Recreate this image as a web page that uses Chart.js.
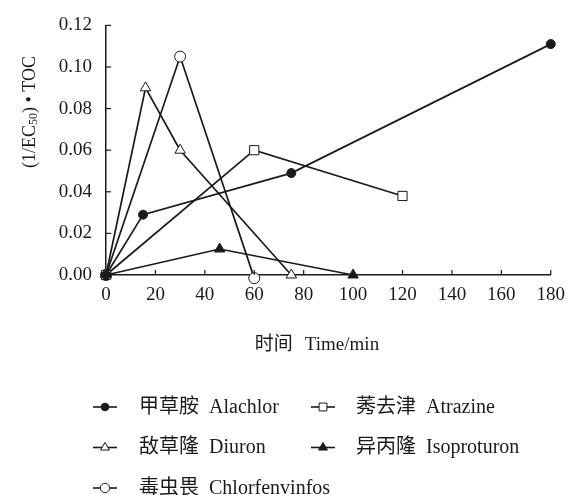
<!DOCTYPE html>
<html><head><meta charset="utf-8">
<style>html,body{margin:0;padding:0;background:#fff}#wrap{width:574px;height:495px;position:relative}</style>
<script src="https://cdn.jsdelivr.net/npm/chart.js@4/dist/chart.umd.min.js"></script>
</head><body><div id="wrap"><canvas id="c"></canvas></div>
<script>
// ---- data ----
const xTicks = [0, 20, 40, 60, 80, 100, 120, 140, 160, 180];
const yTicks = [0, 0.02, 0.04, 0.06, 0.08, 0.10, 0.12];
const seriesZh = ['甲草胺', '莠去津', '敌草隆', '异丙隆', '毒虫畏'];
const seriesEn = ['Alachlor', 'Atrazine', 'Diuron', 'Isoproturon', 'Chlorfenvinfos'];
const alachlorT = [0, 15, 75, 180];
const alachlorV = [0, 0.029, 0.049, 0.111];
const atrazineT = [0, 60, 120];
const atrazineV = [0, 0.060, 0.038];
const diuronT = [0, 16, 30, 75];
const diuronV = [0, 0.090, 0.060, 0];
const isoproturonT = [0, 46, 100];
const isoproturonV = [0, 0.0125, 0];
const chlorT = [0, 30, 60];
const chlorV = [0, 0.105, -0.0015];
const xTitleZh = '时间';
const xTitleEn = 'Time/min';
const yTitleParts = ['(1/EC', '50', ') • TOC'];

// ---- styles ----
const INK = '#1a1a1a';
const SERIF = '"Liberation Serif", "Times New Roman", serif';
const CJK = '"Noto Sans CJK SC", sans-serif';

function pts(t, v) { return t.map((x, i) => ({ x: x, y: v[i] })); }
function ds(i, t, v, style, filled, r) {
  return {
    label: seriesZh[i] + ' ' + seriesEn[i],
    data: pts(t, v),
    borderColor: INK, borderWidth: 1.7,
    pointStyle: style, pointRadius: r, pointHoverRadius: r,
    pointBackgroundColor: filled ? INK : '#ffffff',
    pointBorderColor: INK, pointBorderWidth: 1,
    fill: false, tension: 0, clip: false
  };
}
const datasets = [
  ds(0, alachlorT, alachlorV, 'circle', true, 4.5),
  ds(1, atrazineT, atrazineV, 'rect', false, 6.5),
  ds(2, diuronT, diuronV, 'triangle', false, 6),
  ds(3, isoproturonT, isoproturonV, 'triangle', true, 6),
  ds(4, chlorT, chlorV, 'circle', false, 5.5)
];

function marker(ctx, style, filled, x, y, r) {
  ctx.beginPath();
  if (style === 'circle') {
    ctx.arc(x, y, r, 0, Math.PI * 2);
  } else if (style === 'rect') {
    const s = r * Math.SQRT1_2;
    ctx.rect(x - s, y - s, 2 * s, 2 * s);
  } else {
    ctx.moveTo(x, y - r);
    ctx.lineTo(x + r * Math.cos(Math.PI / 6), y + r / 2);
    ctx.lineTo(x - r * Math.cos(Math.PI / 6), y + r / 2);
    ctx.closePath();
  }
  ctx.fillStyle = filled ? INK : '#fff';
  ctx.fill();
  ctx.lineWidth = 1;
  ctx.strokeStyle = INK;
  ctx.stroke();
}

const decor = {
  id: 'decor',
  afterDraw(chart) {
    const ctx = chart.ctx;
    const xs = chart.scales.x, ys = chart.scales.y;
    ctx.save();
    // inward tick marks
    ctx.strokeStyle = INK; ctx.lineWidth = 1.2;
    ys.ticks.forEach(t => {
      const p = ys.getPixelForValue(t.value);
      ctx.beginPath(); ctx.moveTo(xs.left, p); ctx.lineTo(xs.left + 5, p); ctx.stroke();
    });
    xs.ticks.forEach(t => {
      const p = xs.getPixelForValue(t.value);
      ctx.beginPath(); ctx.moveTo(p, ys.bottom); ctx.lineTo(p, ys.bottom - 5); ctx.stroke();
    });
    ctx.fillStyle = INK;
    // x title
    ctx.textBaseline = 'alphabetic';
    ctx.textAlign = 'left';
    ctx.font = '19px ' + CJK;
    const wz = ctx.measureText(xTitleZh).width;
    ctx.font = '19px ' + SERIF;
    const we = ctx.measureText(xTitleEn).width;
    const gap = 12;
    let sx = 317 - (wz + gap + we) / 2;
    ctx.font = '19px ' + CJK; ctx.fillText(xTitleZh, sx, 349.5);
    ctx.font = '19px ' + SERIF; ctx.fillText(xTitleEn, sx + wz + gap, 349.5);
    // y title (rotated, with subscript)
    ctx.save();
    ctx.translate(30, 112);
    ctx.rotate(-Math.PI / 2);
    ctx.textBaseline = 'middle';
    const fonts = ['18px ' + SERIF, '12px ' + SERIF, '18px ' + SERIF];
    const dys = [0, 4, 0];
    let tot = 0;
    const ws = yTitleParts.map((s, i) => { ctx.font = fonts[i]; const w = ctx.measureText(s).width; tot += w; return w; });
    let px = -tot / 2;
    yTitleParts.forEach((s, i) => { ctx.font = fonts[i]; ctx.fillText(s, px, dys[i]); px += ws[i]; });
    ctx.restore();
    // legend
    const slots = [[105, 139, 407], [323, 356, 407], [105, 139, 447.5], [323, 356, 447.5], [105, 139, 488]];
    chart.data.datasets.forEach((d, i) => {
      const [mx, tx, cy] = slots[i];
      ctx.strokeStyle = INK; ctx.lineWidth = 1.6;
      ctx.beginPath(); ctx.moveTo(mx - 12, cy); ctx.lineTo(mx + 12, cy); ctx.stroke();
      marker(ctx, d.pointStyle, d.pointBackgroundColor !== '#ffffff', mx, cy, d.pointRadius * 0.85);
      ctx.fillStyle = INK;
      ctx.textBaseline = 'alphabetic';
      ctx.font = '20px ' + CJK;
      const w = ctx.measureText(seriesZh[i]).width;
      ctx.fillText(seriesZh[i], tx, cy + 5.5);
      ctx.font = '20px ' + SERIF;
      ctx.fillText(seriesEn[i], tx + w + 10, cy + 5.5);
    });
    ctx.restore();
  }
};

new Chart(document.getElementById('c'), {
  type: 'line',
  data: { datasets: datasets },
  options: {
    responsive: true, maintainAspectRatio: false, animation: false,
    events: [],
    layout: { padding: { left: 0, top: 20, right: 15, bottom: 0 } },
    plugins: { legend: { display: false }, tooltip: { enabled: false } },
    scales: {
      x: {
        type: 'linear', min: 0, max: 180,
        afterBuildTicks: s => { s.ticks = xTicks.map(v => ({ value: v })); },
        afterFit: s => { s.height = 220; },
        grid: { display: true, drawOnChartArea: false, drawTicks: false, color: 'rgba(0,0,0,0)' },
        border: { display: true, color: INK, width: 1.5 },
        ticks: { padding: 9, color: INK, font: { family: SERIF, size: 19 }, maxRotation: 0, autoSkip: false,
          callback: v => String(v) }
      },
      y: {
        type: 'linear', min: 0, max: 0.12,
        afterBuildTicks: s => { s.ticks = yTicks.map(v => ({ value: v })); },
        afterFit: s => { s.width = 106; },
        grid: { display: true, drawOnChartArea: false, drawTicks: false, color: 'rgba(0,0,0,0)' },
        border: { display: true, color: INK, width: 1.5 },
        ticks: { padding: 14, color: INK, font: { family: SERIF, size: 19 }, autoSkip: false,
          callback: v => Number(v).toFixed(2) }
      }
    }
  },
  plugins: [decor]
});
</script></body></html>
